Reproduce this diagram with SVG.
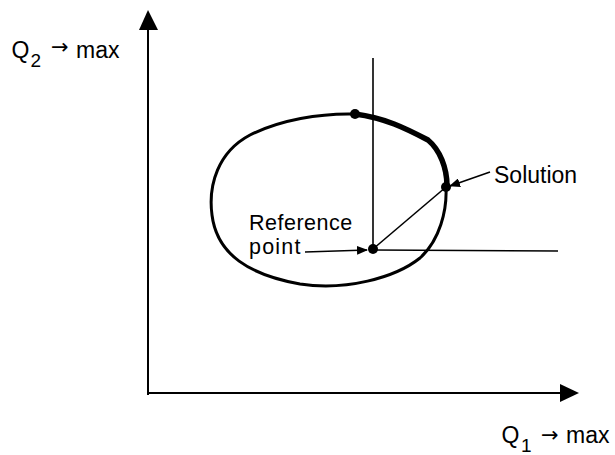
<svg xmlns="http://www.w3.org/2000/svg" width="615" height="455" viewBox="0 0 615 455">
<defs>
<style>
.t{font-family:"Liberation Sans",Arial,sans-serif;font-size:21.5px;fill:#000}
.q{font-family:"Liberation Sans",Arial,sans-serif;font-size:23px;fill:#000}
.s{font-family:"Liberation Sans",Arial,sans-serif;font-size:19px;fill:#000}
.ar{font-family:"DejaVu Sans",sans-serif;font-size:21px;fill:#000}
.ln{stroke:#000;fill:none;stroke-width:1.6}
</style>
<marker id="ah" markerWidth="11" markerHeight="9" refX="10" refY="4.5" orient="auto" markerUnits="userSpaceOnUse"><path d="M0,0 L11,4.5 L0,9 z" fill="#000"/></marker>
</defs>
<g id="axes">
<line x1="148" y1="395" x2="148" y2="28" style="stroke:#000;stroke-width:2"/>
<polygon points="148,10 139,30 158,30" fill="#000"/>
<line x1="147" y1="393" x2="562" y2="393" style="stroke:#000;stroke-width:2"/>
<polygon points="579,393 560,384 560,402" fill="#000"/>
</g>
<g id="region">
<path style="stroke:#000;fill:none;stroke-width:3" d="M355,114 C320,113 280,120 250,135 C218,152 208,185 212,215 C217,255 250,275 300,284 C345,291 395,278 420,258 C440,240 447,210 446,188 C447,170 440,150 428,140"/>
<path style="stroke:#000;fill:none;stroke-width:5.5" d="M355,114 C385,118 405,128 428,140 C440,150 447,168 447,186"/>
</g>
<g id="connectors">
<line class="ln" x1="373" y1="58" x2="373" y2="249"/>
<line class="ln" x1="373" y1="250" x2="558" y2="251"/>
<line class="ln" x1="373" y1="249" x2="446" y2="187"/>
<line class="ln" x1="305" y1="252" x2="367" y2="250" marker-end="url(#ah)"/>
<line class="ln" x1="490" y1="172" x2="450" y2="186" marker-end="url(#ah)"/>
</g>
<g id="points">
<circle cx="355" cy="114" r="5" fill="#000"/>
<circle cx="446" cy="187" r="5" fill="#000"/>
<circle cx="373" cy="249" r="5" fill="#000"/>
</g>
<g id="labels">
<text class="q" x="11.5" y="57.7">Q</text>
<text class="s" x="30.5" y="67">2</text>
<text class="ar" x="51" y="54">→</text>
<text class="q" x="76" y="57.7">max</text>
<text class="t" x="249" y="230" letter-spacing="0.5">Reference</text>
<text class="t" x="249" y="253.5" letter-spacing="1.2">point</text>
<text class="q" x="494" y="183.3">Solution</text>
<text class="q" x="501.5" y="442.7">Q</text>
<text class="s" x="521" y="451.7">1</text>
<text class="ar" x="541" y="441.5">→</text>
<text class="q" x="566" y="442.7">max</text>
</g>
</svg>
